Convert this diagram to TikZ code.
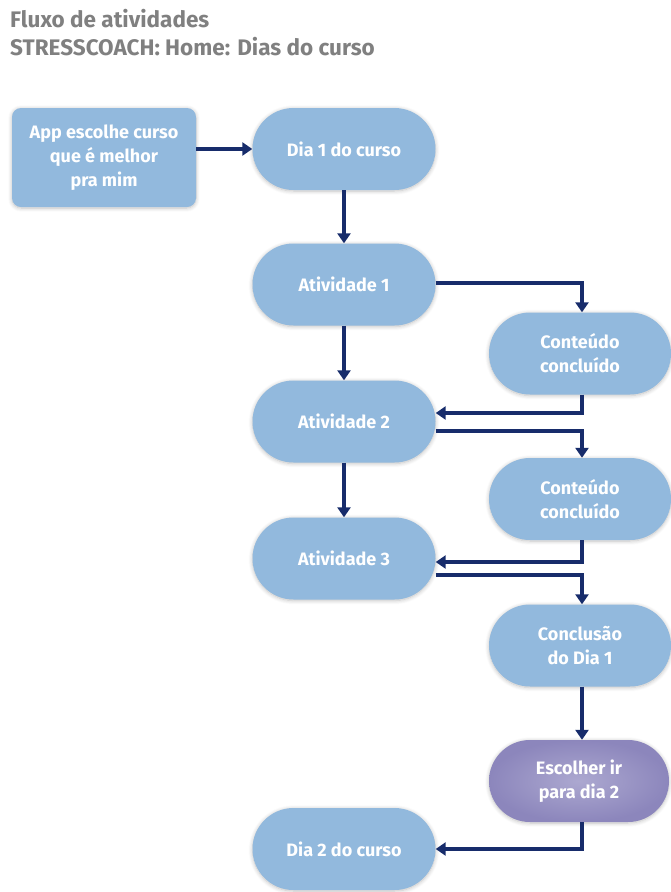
\documentclass[tikz,border=0pt]{standalone}
\usepackage{fontspec}
\setmainfont{Fira Sans}
\usetikzlibrary{arrows.meta,shadows.blur,positioning}
\definecolor{boxblue}{HTML}{92B9DD}
\definecolor{linknavy}{HTML}{172C6B}
\definecolor{titlegray}{HTML}{808080}
\definecolor{lilacin}{HTML}{ACA8D0}
\definecolor{lilacout}{HTML}{8C86BC}
\tikzset{
  glow/.style={blur shadow={shadow xshift=0pt, shadow yshift=-1pt,
      shadow blur radius=4pt, shadow opacity=25, shadow blur steps=8}},
  pill/.style={draw=none, fill=boxblue, glow, minimum width=183pt,
      minimum height=82pt, rounded corners=41pt, align=center,
      text=white, font=\bfseries\fontsize{18}{24}\selectfont},
  appbox/.style={pill, minimum width=184pt, minimum height=99pt,
      rounded corners=9pt},
  choice/.style={pill, fill=none, inner color=lilacin, outer color=lilacout},
  link/.style={draw=linknavy, line width=3.6pt,
      -{Triangle[length=10pt,width=13pt]}},
  heading/.style={anchor=base west, text=titlegray,
      font=\bfseries\fontsize{22.5}{24}\selectfont, inner sep=0pt}
}
\begin{document}
\begin{tikzpicture}[x=1pt,y=-1pt]
  \useasboundingbox (0,0) rectangle (670,892);
  % heading
  \node[heading] (t1) at (10,27) {Fluxo de atividades};
  \node[heading] (t2) at (10,55) {STRESSCOACH: Home: Dias do curso};
  % main column
  \node[appbox] (app) at (104,157.5) {App escolhe curso\\que é melhor\\pra mim};
  \node[pill] (d1) at (344,149) {Dia 1 do curso};
  \node[pill] (a1) at (344,284.5) {Atividade 1};
  \node[pill] (a2) at (344,421.5) {Atividade 2};
  \node[pill] (a3) at (344,558.5) {Atividade 3};
  \node[pill] (d2) at (344,849) {Dia 2 do curso};
  % side column
  \node[pill, minimum width=182pt] (c1) at (580,353.5) {Conteúdo\\concluído};
  \node[pill, minimum width=182pt] (c2) at (580,499) {Conteúdo\\concluído};
  \node[pill, minimum width=182pt] (fim) at (580,645.5) {Conclusão\\do Dia 1};
  \node[choice, minimum width=180pt] (esc) at (579,781) {Escolher ir\\para dia 2};
  % connectors
  \draw[link] (app.east |- d1.west) -- (d1.west);
  \draw[link] (d1.south) -- (a1.north);
  \draw[link] (a1.south) -- (a2.north);
  \draw[link] (a2.south) -- (a3.north);
  \draw[link] ([yshift=1.5pt]a1.east) -| ([xshift=2pt]c1.north);
  \draw[link] ([xshift=2pt]c1.south) |- ([yshift=8.5pt]a2.east);
  \draw[link] ([yshift=-9.5pt]a2.east) -| ([xshift=2pt]c2.north);
  \draw[link] ([xshift=2pt]c2.south) |- ([yshift=-3.5pt]a3.east);
  \draw[link] ([yshift=-16.5pt]a3.east) -| ([xshift=2pt]fim.north);
  \draw[link] ([xshift=2pt]fim.south) -- ([xshift=3pt]esc.north);
  \draw[link] ([xshift=3pt]esc.south) |- (d2.east);
\end{tikzpicture}
\end{document}
